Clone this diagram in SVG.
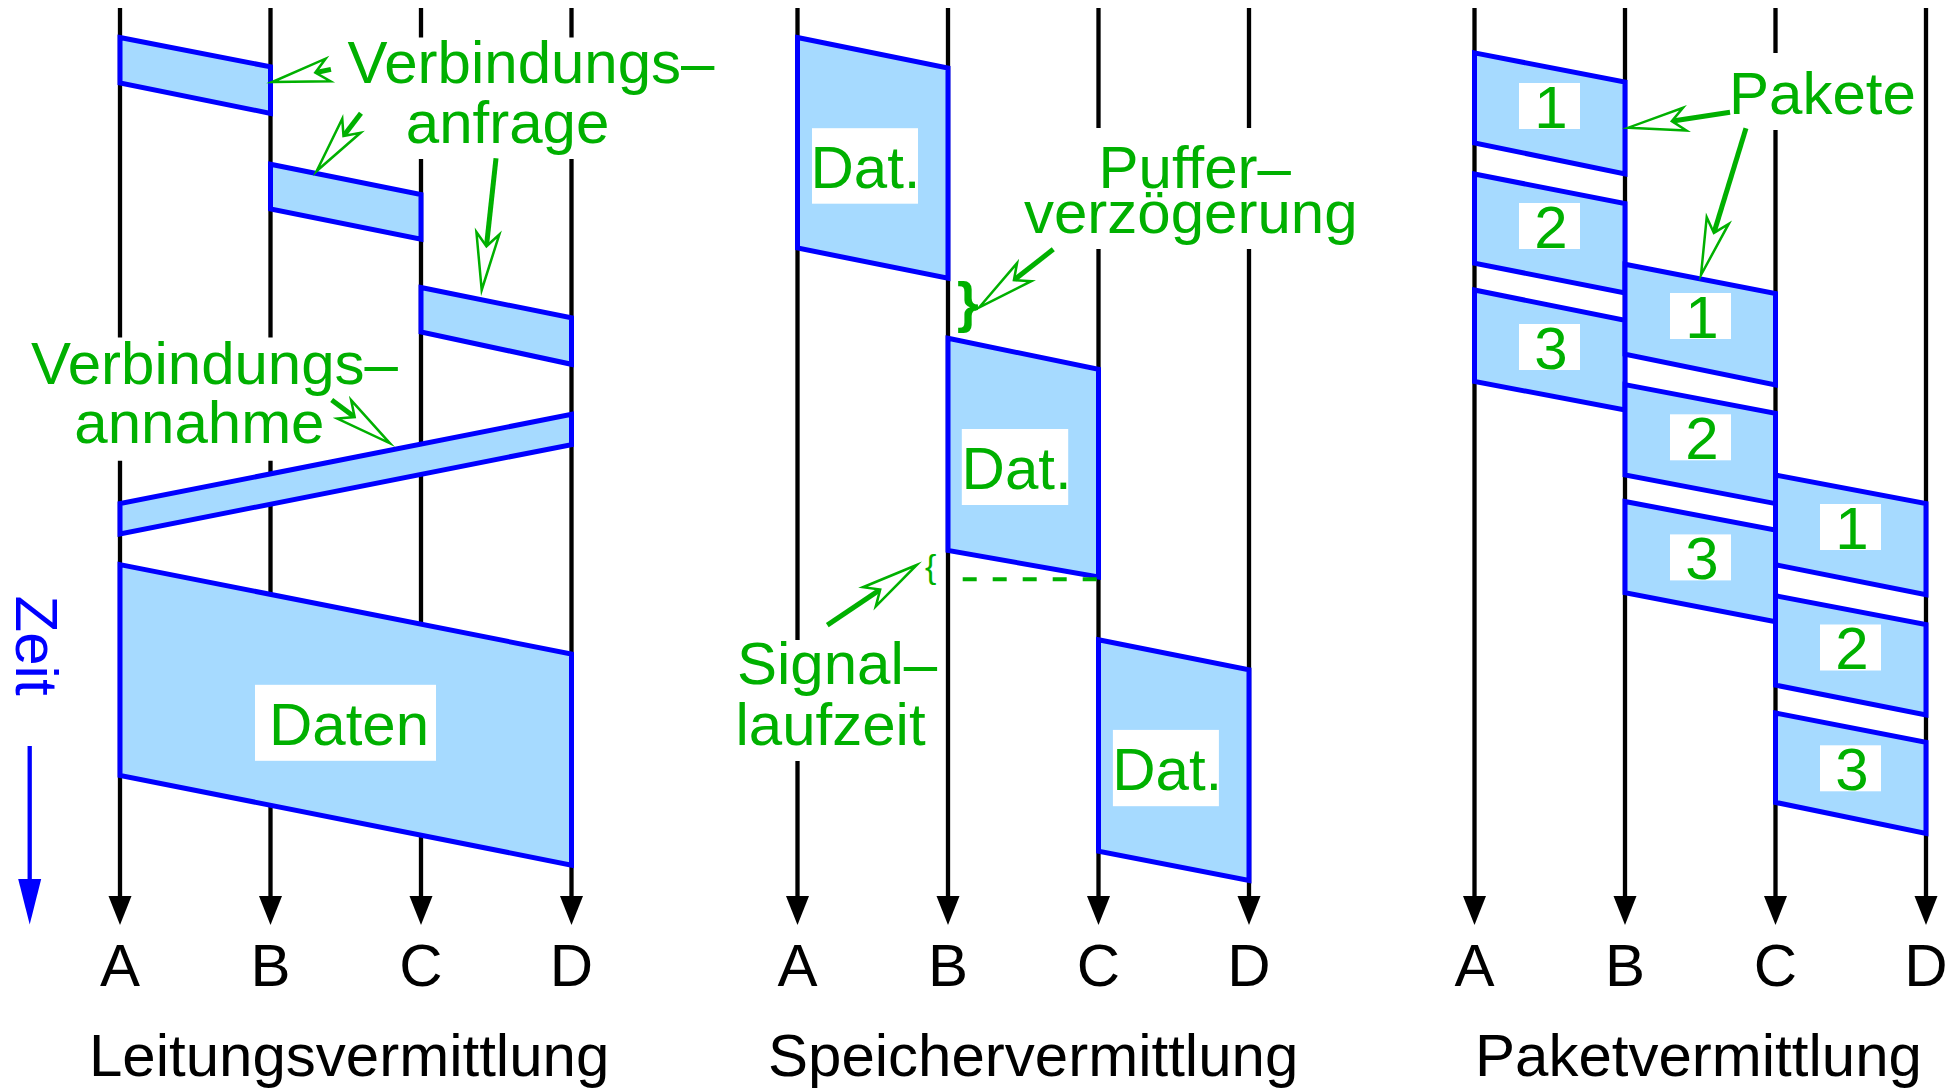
<svg xmlns="http://www.w3.org/2000/svg" width="1952" height="1089" viewBox="0 0 1952 1089">
<defs>
<style>
.ln{stroke:#000;stroke-width:4.3;fill:none}
.tip{fill:#000}
.box{fill:#a6daff;stroke:#0000ff;stroke-width:5;stroke-linejoin:miter}
.pad{fill:#fff}
.t{font-family:"Liberation Sans",Arial,Helvetica,sans-serif;font-size:60px}
.g{fill:#00b000}
.k{fill:#000}
.mid{text-anchor:middle}
.shaft{stroke:#00b000;stroke-width:5;fill:none}
.head{fill:#fff;stroke:#00b000;stroke-width:2.5;stroke-linejoin:miter;stroke-miterlimit:10}
</style>
<path id="head" d="M0,0 L-57,-11.5 L-44,0 L-57,11.5 Z"/>
<polygon id="tipdown" points="-11.5,-29 11.5,-29 0,0"/>
</defs>
<rect width="1952" height="1089" fill="#fff"/>

<!-- time axes: Leitungsvermittlung -->
<g id="axes-leitung">
  <path class="ln" d="M120,8V337.5M120,460.7V897M270.5,8V337.5M270.5,460.7V897M421,8V37.5M421,159V897M571.5,8V37.5M571.5,159V897"/>
  <use href="#tipdown" class="tip" x="120" y="925"/>
  <use href="#tipdown" class="tip" x="270.5" y="925"/>
  <use href="#tipdown" class="tip" x="421" y="925"/>
  <use href="#tipdown" class="tip" x="571.5" y="925"/>
  <text class="t k mid" x="120" y="986">A</text>
  <text class="t k mid" x="270.5" y="986">B</text>
  <text class="t k mid" x="421" y="986">C</text>
  <text class="t k mid" x="571.5" y="986">D</text>
  <text class="t k" x="89" y="1076">Leitungsvermittlung</text>
</g>

<!-- time axes: Speichervermittlung -->
<g id="axes-speicher">
  <path class="ln" d="M797.5,8V640M797.5,761V897M948,8V897M1098.5,8V128M1098.5,249V897M1249,8V128M1249,249V897"/>
  <use href="#tipdown" class="tip" x="797.5" y="925"/>
  <use href="#tipdown" class="tip" x="948" y="925"/>
  <use href="#tipdown" class="tip" x="1098.5" y="925"/>
  <use href="#tipdown" class="tip" x="1249" y="925"/>
  <text class="t k mid" x="797.5" y="986">A</text>
  <text class="t k mid" x="948" y="986">B</text>
  <text class="t k mid" x="1098.5" y="986">C</text>
  <text class="t k mid" x="1249" y="986">D</text>
  <text class="t k" x="768" y="1076">Speichervermittlung</text>
</g>

<!-- time axes: Paketvermittlung -->
<g id="axes-paket">
  <path class="ln" d="M1474.5,8V897M1625,8V897M1775.5,8V53M1775.5,130V897M1926,8V897"/>
  <use href="#tipdown" class="tip" x="1474.5" y="925"/>
  <use href="#tipdown" class="tip" x="1625" y="925"/>
  <use href="#tipdown" class="tip" x="1775.5" y="925"/>
  <use href="#tipdown" class="tip" x="1926" y="925"/>
  <text class="t k mid" x="1474.5" y="986">A</text>
  <text class="t k mid" x="1625" y="986">B</text>
  <text class="t k mid" x="1775.5" y="986">C</text>
  <text class="t k mid" x="1926" y="986">D</text>
  <text class="t k" x="1475" y="1076">Paketvermittlung</text>
</g>

<!-- time direction -->
<g id="zeit">
  <text class="t" fill="#0000ff" transform="translate(16,595.6) rotate(90)">Zeit</text>
  <line x1="29.7" y1="746" x2="29.7" y2="881" stroke="#0000ff" stroke-width="4.3"/>
  <polygon points="18.2,879 41.2,879 29.7,924.5" fill="#0000ff"/>
</g>

<!-- circuit switching -->
<g id="anfrage-ab"><polygon class="box" points="120,37.5 270.5,66.8 270.5,113.4 120,83"/></g>
<g id="anfrage-bc"><polygon class="box" points="270.5,164.3 421,194.6 421,239.3 270.5,209"/></g>
<g id="anfrage-cd"><polygon class="box" points="421,287.5 571.5,317.9 571.5,364.3 421,332"/></g>
<g id="annahme-da"><polygon class="box" points="571.5,414.3 571.5,444.6 120,534 120,503.6"/></g>
<g id="daten">
  <polygon class="box" points="120,564.6 571.5,654 571.5,865.1 120,775.4"/>
  <rect class="pad" x="255" y="684.8" width="181" height="76"/>
  <text class="t g" x="269" y="745">Daten</text>
</g>
<g id="label-anfrage">
  <text class="t g" x="347.5" y="83">Verbindungs–</text>
  <text class="t g" x="405.8" y="143">anfrage</text>
</g>
<g id="label-annahme">
  <text class="t g" x="31" y="384">Verbindungs–</text>
  <text class="t g" x="74.3" y="443">annahme</text>
</g>

<!-- message switching -->
<g id="dat-ab">
  <polygon class="box" points="797.5,37.5 948,68 948,278.2 797.5,248"/>
  <rect class="pad" x="812" y="128.2" width="106" height="75.5"/>
  <text class="t g" x="810.5" y="188.3">Dat.</text>
</g>
<g id="dat-bc">
  <polygon class="box" points="948,338.3 1098.5,369.3 1098.5,577 948,550.5"/>
  <rect class="pad" x="961.8" y="429" width="106.4" height="76"/>
  <text class="t g" x="961.6" y="489">Dat.</text>
</g>
<g id="dat-cd">
  <polygon class="box" points="1098.5,639.7 1249,669.8 1249,880.5 1098.5,851.2"/>
  <rect class="pad" x="1112.9" y="729.9" width="106" height="76.3"/>
  <text class="t g" x="1112.2" y="790">Dat.</text>
</g>
<g id="label-puffer">
  <text class="t g" x="1098.5" y="187.5">Puffer–</text>
  <text class="t g" x="1024" y="232.7">verzögerung</text>
  <text class="g" x="957" y="321" font-family="Liberation Sans, Arial, sans-serif" font-size="56" font-weight="bold">}</text>
</g>
<g id="label-signal">
  <text class="t g" x="737" y="684">Signal–</text>
  <text class="t g" x="735.5" y="745">laufzeit</text>
  <text class="g" x="925" y="578" font-family="Liberation Sans, Arial, sans-serif" font-size="34">{</text>
  <line x1="962.7" y1="579.3" x2="1098.5" y2="579.3" stroke="#00b000" stroke-width="4" stroke-dasharray="14 16"/>
</g>

<!-- packet switching -->
<g id="pkt-ab">
  <polygon class="box" points="1474.5,52.9 1625,82.1 1625,173.9 1474.5,142.9"/>
  <polygon class="box" points="1474.5,174 1625,203.6 1625,292.9 1474.5,263.2"/>
  <polygon class="box" points="1474.5,290 1625,320.4 1625,410 1474.5,381.4"/>
  <rect class="pad" x="1519" y="83" width="61" height="46"/>
  <rect class="pad" x="1519" y="203" width="61" height="46"/>
  <rect class="pad" x="1519" y="324" width="61" height="46"/>
  <text class="t g mid" x="1551" y="127.5">1</text>
  <text class="t g mid" x="1551" y="247.5">2</text>
  <text class="t g mid" x="1551" y="368.5">3</text>
</g>
<g id="pkt-bc">
  <polygon class="box" points="1625,264.3 1775.5,293.6 1775.5,385 1625,354.3"/>
  <polygon class="box" points="1625,384.6 1775.5,413.2 1775.5,503.6 1625,475"/>
  <polygon class="box" points="1625,501.5 1775.5,530 1775.5,621.8 1625,592.6"/>
  <rect class="pad" x="1670" y="293" width="61" height="46"/>
  <rect class="pad" x="1670" y="414.3" width="61" height="46"/>
  <rect class="pad" x="1670" y="534.4" width="61" height="46"/>
  <text class="t g mid" x="1702" y="337.5">1</text>
  <text class="t g mid" x="1702" y="458.8">2</text>
  <text class="t g mid" x="1702" y="578.9">3</text>
</g>
<g id="pkt-cd">
  <polygon class="box" points="1775.5,475 1926,503.5 1926,594.6 1775.5,564.7"/>
  <polygon class="box" points="1775.5,595.7 1926,624.5 1926,715 1775.5,685.1"/>
  <polygon class="box" points="1775.5,713 1926,742.2 1926,833.4 1775.5,802.4"/>
  <rect class="pad" x="1820" y="504" width="61" height="46"/>
  <rect class="pad" x="1820" y="624.5" width="61" height="46"/>
  <rect class="pad" x="1820" y="745.3" width="61" height="46"/>
  <text class="t g mid" x="1852" y="548.5">1</text>
  <text class="t g mid" x="1852" y="669">2</text>
  <text class="t g mid" x="1852" y="789.8">3</text>
</g>
<g id="label-pakete">
  <text class="t g" x="1729" y="113.6">Pakete</text>
</g>

<!-- pointer arrows: shaft from tail to notch, open head at the tip -->
<g id="connectors">
  <g transform="translate(272.3,82) rotate(167.8)"><line class="shaft" x1="-60" y1="0" x2="-45" y2="0"/><use href="#head" class="head"/></g>
  <g transform="translate(316.7,171) rotate(127.5)"><line class="shaft" x1="-72.7" y1="0" x2="-45" y2="0"/><use href="#head" class="head"/></g>
  <g transform="translate(481.7,290) rotate(96.2)"><line class="shaft" x1="-132.5" y1="0" x2="-45" y2="0"/><use href="#head" class="head"/></g>
  <g transform="translate(390,443.3) rotate(36.6)"><line class="shaft" x1="-72.6" y1="0" x2="-45" y2="0"/><use href="#head" class="head"/></g>
  <g transform="translate(979.3,307.3) rotate(141.9)"><line class="shaft" x1="-94" y1="0" x2="-45" y2="0"/><use href="#head" class="head"/></g>
  <g transform="translate(916.7,565) rotate(-33.9)"><line class="shaft" x1="-107.7" y1="0" x2="-45" y2="0"/><use href="#head" class="head"/></g>
  <g transform="translate(1628.3,127.7) rotate(171.4)"><line class="shaft" x1="-102.9" y1="0" x2="-45" y2="0"/><use href="#head" class="head"/></g>
  <g transform="translate(1701,275) rotate(107.05)"><line class="shaft" x1="-153.4" y1="0" x2="-45" y2="0"/><use href="#head" class="head"/></g>
</g>
</svg>
